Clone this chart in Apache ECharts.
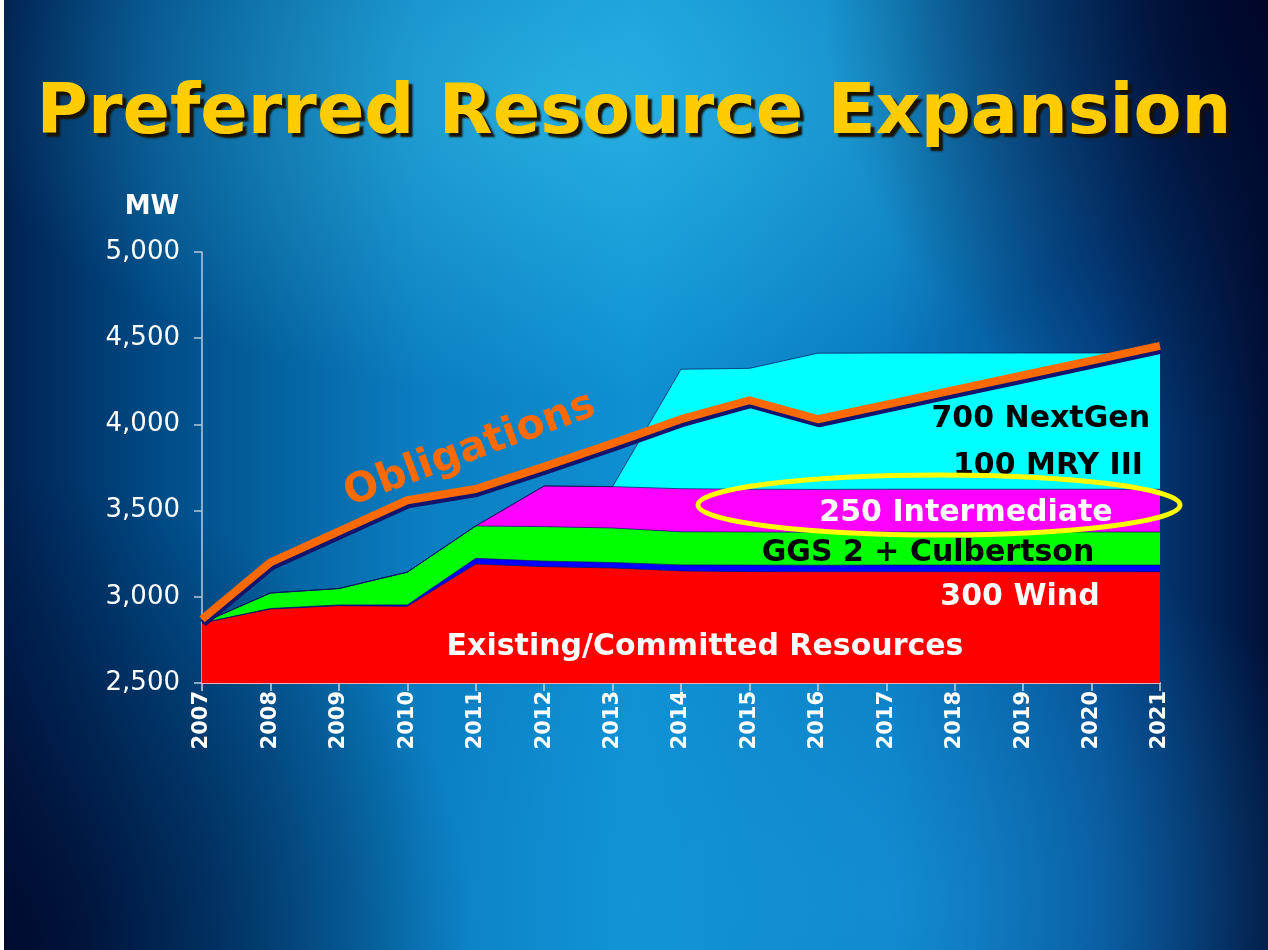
<!DOCTYPE html>
<html>
<head>
<meta charset="utf-8">
<script src="https://cdn.jsdelivr.net/npm/echarts/dist/echarts.min.js"></script>
<style>
html,body{margin:0;padding:0;width:1268px;height:950px;overflow:hidden;}
#bg{position:absolute;left:0;top:0;width:1268px;height:950px;
background:
 radial-gradient(circle at 100% 0%, rgba(0,6,40,0.95) 0%, rgba(0,6,40,0) 28%),
 radial-gradient(circle at 0% 100%, rgba(0,6,40,0.85) 0%, rgba(0,6,40,0) 30%),
 radial-gradient(ellipse 48% 32% at 45% 10%, rgba(70,215,245,0.45) 0%, rgba(70,215,245,0) 100%),
 radial-gradient(ellipse 40% 40% at 70% 95%, rgba(30,160,230,0.45) 0%, rgba(30,160,230,0) 100%),
 linear-gradient(to right, #002050 0%, #004a85 12%, #0a7dc0 33%, #0e90d2 50%, #0a7cc0 70%, #04488c 87%, #001038 100%);
}
#strip{position:absolute;left:0;top:0;width:4px;height:950px;background:#fff;}
#chart{position:absolute;left:0;top:0;width:1268px;height:950px;}
</style>
</head>
<body>
<div id="bg"></div>
<div id="strip"></div>
<div id="chart"></div>
<script>
// ---- data (MW) ----
const years = ['2007','2008','2009','2010','2011','2012','2013','2014','2015','2016','2017','2018','2019','2020','2021'];
const existingCommitted = [2848, 2929, 2948, 2945, 3190, 3175, 3167, 3150, 3146, 3145, 3145, 3145, 3145, 3145, 3145];
const otherSmall        = [0, 3, 5, 8, 33, 32, 32, 35, 38, 38, 39, 39, 39, 39, 39];
const ggsCulbertson     = [0, 90, 95, 190, 188, 200, 200, 192, 192, 192, 192, 192, 192, 192, 192];
const intermediate      = [0, 0, 0, 0, 0, 236, 240, 250, 248, 248, 248, 248, 248, 248, 248];
const nextGenMry        = [0, 0, 0, 0, 0, 0, 0, 693, 701, 790, 790, 790, 790, 790, 790];
const obligations       = [2870, 3200, 3380, 3560, 3625, 3755, 3890, 4030, 4140, 4030, 4115, 4200, 4285, 4370, 4455];
const yTicks = {min: 2500, max: 5000, interval: 500};

const chart = echarts.init(document.getElementById('chart'));
const F = 'DejaVu Sans';
const areaLine = {width: 1, color: '#101060', opacity: 0.7};
function area(name, data, color) {
  return {name: name, type: 'line', stack: 'total', data: data, symbol: 'none',
    lineStyle: areaLine, areaStyle: {color: color, opacity: 1}, itemStyle: {color: color}, z: 2};
}
const whiteLbl = {fill: '#ffffff', font: 'bold 30px "DejaVu Sans"', textShadowColor: '#1a1a70', textShadowOffsetX: 2, textShadowOffsetY: 3, textShadowBlur: 0};
const blackLbl = {fill: '#000000', font: 'bold 30px "DejaVu Sans"'};

chart.setOption({
  backgroundColor: 'transparent',
  animation: false,
  grid: {left: 202, right: 108, top: 252, bottom: 267},
  xAxis: {
    type: 'category', data: years, boundaryGap: false,
    axisLine: {show: true, lineStyle: {color: '#e8b0b8', width: 2}},
    axisTick: {show: true, length: 8, lineStyle: {color: '#c8d4e4', width: 1.5}},
    axisLabel: {rotate: 90, margin: 8, color: '#ffffff', fontFamily: F, fontWeight: 'bold', fontSize: 21, interval: 0}
  },
  yAxis: {
    type: 'value', min: yTicks.min, max: yTicks.max, interval: yTicks.interval,
    splitLine: {show: false},
    axisLine: {show: true, lineStyle: {color: '#b8c8dc', width: 1.5}},
    axisTick: {show: true, inside: false, length: 8, lineStyle: {color: '#b8c8dc', width: 1.5}},
    axisLabel: {margin: 22, color: '#ffffff', fontFamily: F, fontSize: 26,
      formatter: v => v.toLocaleString('en-US')}
  },
  series: [
    area('Existing/Committed Resources + 300 Wind', existingCommitted, '#ff0000'),
    area('Other', otherSmall, '#0000ff'),
    area('GGS 2 + Culbertson', ggsCulbertson, '#00ff00'),
    area('250 Intermediate', intermediate, '#ff00ff'),
    area('700 NextGen + 100 MRY III', nextGenMry, '#00ffff'),
    {name: 'Obligations', type: 'line', data: obligations, symbol: 'none', z: 5,
     lineStyle: {color: '#ff6a00', width: 8, shadowColor: '#14146e', shadowOffsetX: 1, shadowOffsetY: 4, shadowBlur: 0, join: 'round'}}
  ],
  graphic: [
    {type: 'text', left: 'center', top: 80, z: 10,
     style: {text: 'Preferred Resource Expansion', fill: '#ffcc00', font: 'bold 70px "DejaVu Sans"',
       textShadowColor: '#1a1200', textShadowOffsetX: 4, textShadowOffsetY: 4, textShadowBlur: 2}},
    {type: 'text', x: 152, y: 207, z: 10,
     style: {text: 'MW', fill: '#ffffff', font: 'bold 26px "DejaVu Sans"', align: 'center', verticalAlign: 'middle'}},
    {type: 'text', x: 470, y: 450, rotation: 20.3 * Math.PI / 180, z: 10,
     style: {text: 'Obligations', fill: '#ff6a00', font: 'bold 41px "DejaVu Sans"', align: 'center', verticalAlign: 'middle',
       textShadowColor: '#14146e', textShadowOffsetX: 2, textShadowOffsetY: 3, textShadowBlur: 0}},
    {type: 'text', x: 1150, y: 419, z: 10, style: Object.assign({text: '700 NextGen', align: 'right', verticalAlign: 'middle'}, blackLbl)},
    {type: 'text', x: 1143, y: 466, z: 10, style: Object.assign({text: '100 MRY III', align: 'right', verticalAlign: 'middle'}, blackLbl)},
    {type: 'ellipse', z: 11, shape: {cx: 939, cy: 505, rx: 241, ry: 30},
     style: {fill: 'none', stroke: '#ffff00', lineWidth: 5}},
    {type: 'text', x: 966, y: 513, z: 12, style: Object.assign({text: '250 Intermediate', align: 'center', verticalAlign: 'middle'}, whiteLbl)},
    {type: 'text', x: 928, y: 553, z: 10, style: Object.assign({text: 'GGS 2 + Culbertson', align: 'center', verticalAlign: 'middle'}, blackLbl)},
    {type: 'text', x: 1020, y: 597, z: 10, style: Object.assign({text: '300 Wind', align: 'center', verticalAlign: 'middle'}, whiteLbl)},
    {type: 'text', x: 705, y: 647, z: 10, style: Object.assign({text: 'Existing/Committed Resources', align: 'center', verticalAlign: 'middle'}, whiteLbl)}
  ]
});
</script>
</body>
</html>
